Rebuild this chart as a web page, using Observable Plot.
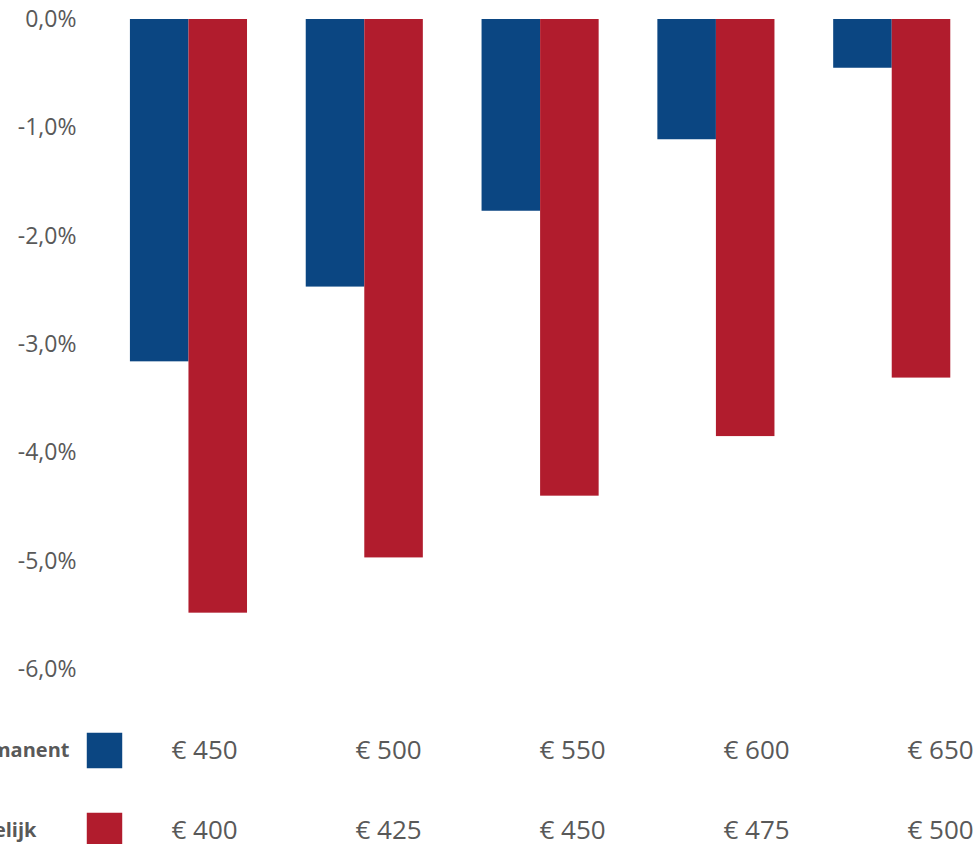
<!DOCTYPE html>
<html>
<head>
<meta charset="utf-8">
<script src="https://cdn.jsdelivr.net/npm/d3@7"></script>
<script src="https://cdn.jsdelivr.net/npm/@observablehq/plot@0.6"></script>
<style>
  html, body { margin: 0; padding: 0; background: #fff; overflow: hidden; }
  #chart svg { display: block; overflow: visible; }
</style>
</head>
<body>
<div id="chart"></div>
<script>
// ---- data ----
const series = ["Permanent", "Tijdelijk"];
const scenarios = ["S1", "S2", "S3", "S4", "S5"];
const permanentAmounts = [450, 500, 550, 600, 650];
const tijdelijkAmounts = [400, 425, 450, 475, 500];
const permanentChange = [-3.16, -2.47, -1.77, -1.11, -0.45];  // %
const tijdelijkChange = [-5.48, -4.97, -4.40, -3.85, -3.31];  // %
const yTicks = [0, -1, -2, -3, -4, -5, -6];                  // %
const colors = ["#0B4682", "#B11C2D"];
const textColor = "#595959";

// ---- derived tables ----
const bars = [];
const cells = [];
scenarios.forEach((s, i) => {
  bars.push({scenario: s, series: "Permanent", value: permanentChange[i] / 100});
  bars.push({scenario: s, series: "Tijdelijk", value: tijdelijkChange[i] / 100});
  cells.push({scenario: s, series: "Permanent", amount: "€ " + permanentAmounts[i]});
  cells.push({scenario: s, series: "Tijdelijk", amount: "€ " + tijdelijkAmounts[i]});
});
const fmt = d => (Math.round(d * 1000) / 10).toFixed(1).replace(".", ",") + "%";

const chart = Plot.plot({
  width: 977,
  height: 700,
  marginLeft: 0, marginRight: 0, marginTop: 0, marginBottom: 0,
  style: {fontFamily: "'Open Sans', sans-serif", fontSize: "23px", color: textColor, background: "#fff"},
  fx: {domain: scenarios, range: [71.2, 1009], paddingInner: 0.334, paddingOuter: 0.334, round: false, axis: null},
  x: {domain: series, padding: 0, round: false, axis: null},
  y: {domain: [-0.06, 0], range: [669, 19], axis: null},
  color: {domain: series, range: colors},
  marks: [
    Plot.barY(bars, {fx: "scenario", x: "series", y: "value", fill: "series"}),
    Plot.axisY(yTicks.map(d => d / 100), {
      anchor: "left", facetAnchor: "left", tickSize: 0, tickPadding: 54,
      tickFormat: fmt, fill: textColor, fontSize: 23, label: null
    })
  ]
});

const table = Plot.plot({
  width: 977,
  height: 144,
  marginLeft: 0, marginRight: 0, marginTop: 0, marginBottom: 0,
  style: {fontFamily: "'Open Sans', sans-serif", fontSize: "26px", color: textColor, background: "#fff"},
  x: {type: "point", domain: scenarios, range: [203.5, 939.5], padding: 0, axis: null},
  y: {type: "point", domain: series, range: [50, 130], padding: 0, axis: null},
  color: {domain: series, range: colors},
  marks: [
    Plot.text(cells, {x: "scenario", y: "series", text: "amount", fill: textColor, fontSize: 26}),
    Plot.dot(series, {y: d => d, frameAnchor: "left", dx: 104, symbol: "square", r: 20, fill: d => d, stroke: null}),
    Plot.text(series, {y: d => d, frameAnchor: "left", textAnchor: "start", dx: -43, text: d => d,
      fontWeight: "bold", fontSize: 20, fill: textColor})
  ]
});

document.getElementById("chart").append(chart, table);
</script>
</body>
</html>
